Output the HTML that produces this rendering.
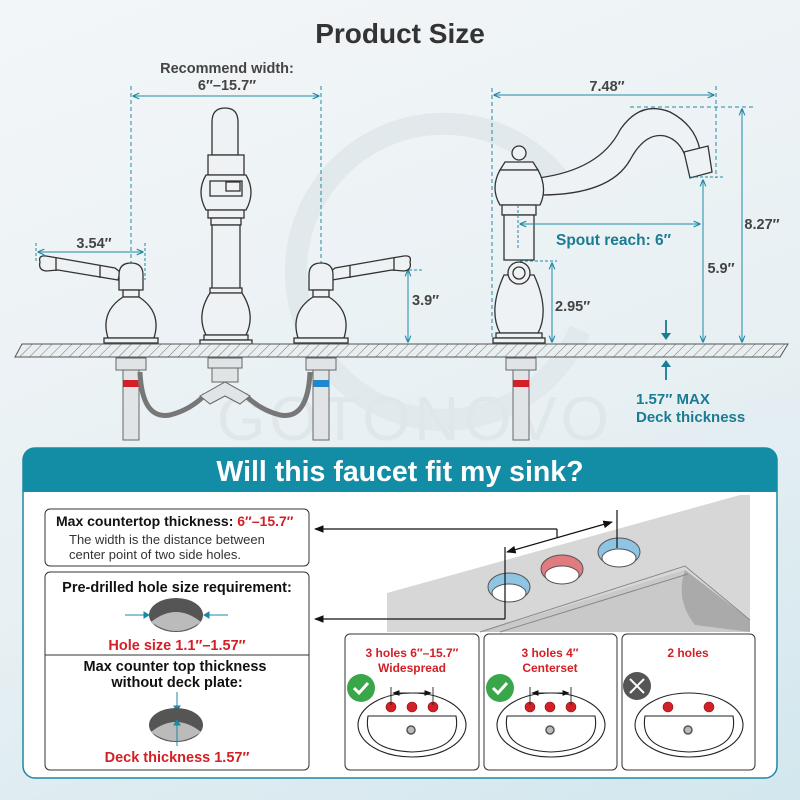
<!DOCTYPE html>
<html><head><meta charset="utf-8"><style>
html,body{margin:0;padding:0}
body{width:800px;height:800px;overflow:hidden;background:linear-gradient(160deg,#f3f6f8 0%,#e8f0f3 55%,#d2e7ee 100%);font-family:"Liberation Sans",sans-serif;position:relative}
svg{position:absolute;left:0;top:0}
</style></head><body>
<svg width="800" height="800" viewBox="0 0 800 800" xmlns="http://www.w3.org/2000/svg" font-family="Liberation Sans, sans-serif">
<defs>
<pattern id="hatch" width="7" height="7" patternUnits="userSpaceOnUse" patternTransform="rotate(45)">
<rect width="7" height="7" fill="#e9eef0"/><line x1="0" y1="0" x2="0" y2="7" stroke="#777" stroke-width="1"/></pattern>
<marker id="ah" viewBox="0 0 10 10" refX="9" refY="5" markerWidth="7" markerHeight="7" orient="auto-start-reverse"><path d="M0,1 L10,5 L0,9" fill="none" stroke="#1f8aa3" stroke-width="1.6"/></marker>
<marker id="bk" viewBox="0 0 10 10" refX="9" refY="5" markerWidth="8" markerHeight="8" orient="auto-start-reverse"><path d="M0,1 L10,5 L0,9 z" fill="#111"/></marker>
</defs>
<!-- watermark -->
<path d="M560,180 A148,148 0 1 0 580,330" fill="none" stroke="#e1e9ec" stroke-width="22"/>
<text x="415" y="440" font-size="62" fill="#dfe7ea" text-anchor="middle" letter-spacing="4">GOTONOVO</text>

<text x="400" y="43" font-size="28" font-weight="bold" fill="#333" text-anchor="middle">Product Size</text>

<!-- left dimensions -->
<text x="227" y="73" font-size="14.5" font-weight="bold" fill="#444" text-anchor="middle">Recommend width:</text>
<text x="227" y="90" font-size="14.5" font-weight="bold" fill="#444" text-anchor="middle">6″–15.7″</text>
<g stroke="#1f8aa3" stroke-width="1" fill="none">
<line x1="131" y1="86" x2="131" y2="343" stroke-dasharray="4,3"/>
<line x1="321" y1="86" x2="321" y2="343" stroke-dasharray="4,3"/>
<line x1="133" y1="96" x2="319" y2="96" marker-start="url(#ah)" marker-end="url(#ah)"/>
<line x1="36" y1="243" x2="36" y2="263" stroke-dasharray="3,2"/>
<line x1="145" y1="243" x2="145" y2="280" stroke-dasharray="3,2"/>
<line x1="38" y1="252" x2="143" y2="252" marker-start="url(#ah)" marker-end="url(#ah)"/>
<line x1="408" y1="270" x2="408" y2="342" marker-start="url(#ah)" marker-end="url(#ah)"/>
<line x1="404" y1="270" x2="422" y2="270" stroke-dasharray="3,2"/>
</g>
<text x="94" y="248" font-size="14.5" font-weight="bold" fill="#444" text-anchor="middle">3.54″</text>
<text x="412" y="305" font-size="14.5" font-weight="bold" fill="#444">3.9″</text>

<!-- faucets -->
<g fill="#eef2f4" stroke="#333" stroke-width="1.3">
<path d="M212,155 L212,122 Q212,108 225,108 Q238,108 238,122 L238,155 z"/>
<rect x="208" y="155" width="36" height="20"/>
<path d="M206,175 Q196,192 206,210 L246,210 Q256,192 246,175 z"/>
<rect x="210" y="181" width="32" height="15"/><rect x="226" y="182" width="14" height="9"/>
<rect x="208" y="210" width="36" height="8"/><rect x="211" y="218" width="30" height="7"/>
<rect x="212" y="225" width="28" height="65"/>
<rect x="210" y="288" width="32" height="5"/>
<path d="M210,293 Q196,315 206,335 L246,335 Q256,315 242,293 z"/>
<rect x="204" y="335" width="44" height="5"/><rect x="200" y="340" width="52" height="4"/>
<path d="M40,262 Q38,255 46,256 L58,258 L115,268 L120,272 L118,280 L58,270 L46,271 Q38,270 40,262 z"/>
<line x1="56" y1="257" x2="56" y2="271"/><line x1="100" y1="265" x2="100" y2="278"/>
<path d="M119,290 L119,275 Q119,263 131,263 Q143,263 143,275 L143,290 z"/>
<rect x="123" y="290" width="16" height="7"/>
<path d="M123,297 Q100,312 108,338 L154,338 Q162,312 139,297 z"/>
<rect x="104" y="338" width="54" height="5"/>
<path d="M410,262 Q412,255 404,256 L392,258 L335,268 L330,272 L332,280 L392,270 L404,271 Q412,270 410,262 z"/>
<line x1="394" y1="257" x2="394" y2="271"/><line x1="350" y1="265" x2="350" y2="278"/>
<path d="M309,290 L309,275 Q309,263 321,263 Q333,263 333,275 L333,290 z"/>
<rect x="313" y="290" width="16" height="7"/>
<path d="M313,297 Q290,312 298,338 L344,338 Q352,312 329,297 z"/>
<rect x="294" y="338" width="54" height="5"/>
<path d="M538,178 Q600,170 620,130 Q640,100 670,112 Q695,125 700,150 L686,158 Q680,140 665,136 Q645,132 630,160 Q610,195 540,195 z"/>
<path d="M684,152 L708,146 L712,172 L690,178 z"/>
<circle cx="519" cy="153" r="7"/>
<path d="M505,162 L533,162 L538,170 L500,170 z"/>
<path d="M500,170 Q490,188 500,205 L540,205 Q548,188 538,170 z"/>
<rect x="502" y="205" width="34" height="10"/>
<rect x="504" y="215" width="30" height="45"/>
<path d="M504,275 Q488,310 500,333 L538,333 Q550,310 534,275 z"/>
<circle cx="519" cy="273" r="11"/><circle cx="519" cy="273" r="6"/>
<rect x="496" y="333" width="46" height="5"/><rect x="493" y="338" width="52" height="5"/>
</g>

<!-- right dimensions -->
<g stroke="#1f8aa3" stroke-width="1" fill="none">
<line x1="492" y1="88" x2="492" y2="340" stroke-dasharray="4,3"/>
<line x1="716" y1="86" x2="716" y2="178" stroke-dasharray="4,3"/>
<line x1="494" y1="95" x2="714" y2="95" marker-start="url(#ah)" marker-end="url(#ah)"/>
<line x1="630" y1="107" x2="756" y2="107" stroke-dasharray="4,3"/>
<line x1="742" y1="109" x2="742" y2="342" marker-start="url(#ah)" marker-end="url(#ah)"/>
<line x1="690" y1="177" x2="724" y2="177" stroke-dasharray="3,2"/>
<line x1="703" y1="180" x2="703" y2="342" marker-start="url(#ah)" marker-end="url(#ah)"/>
<line x1="518" y1="205" x2="518" y2="250" stroke-dasharray="3,2"/>
<line x1="520" y1="224" x2="700" y2="224" marker-start="url(#ah)" marker-end="url(#ah)"/>
<line x1="520" y1="261" x2="557" y2="261" stroke-dasharray="3,2"/>
<line x1="552" y1="263" x2="552" y2="342" marker-start="url(#ah)" marker-end="url(#ah)"/>
</g>
<g stroke="#1a7b93" stroke-width="1.8"><line x1="666" y1="320" x2="666" y2="336"/><line x1="666" y1="364" x2="666" y2="380"/></g>
<path d="M661,333 L666,340 L671,333 z M661,367 L666,360 L671,367 z" fill="#1a7b93"/>
<text x="607" y="91" font-size="14.5" font-weight="bold" fill="#444" text-anchor="middle">7.48″</text>
<text x="762" y="229" font-size="14.5" font-weight="bold" fill="#444" text-anchor="middle">8.27″</text>
<text x="721" y="273" font-size="14.5" font-weight="bold" fill="#444" text-anchor="middle">5.9″</text>
<text x="556" y="245" font-size="15.5" font-weight="bold" fill="#1a7b93">Spout reach: 6″</text>
<text x="555" y="311" font-size="14.5" font-weight="bold" fill="#444">2.95″</text>
<text x="636" y="404" font-size="15" font-weight="bold" fill="#1a7b93">1.57″ MAX</text>
<text x="636" y="422" font-size="15" font-weight="bold" fill="#1a7b93">Deck thickness</text>

<path d="M22,344 L788,344 L780,357 L15,357 z" fill="url(#hatch)" stroke="#555" stroke-width="1"/>

<g stroke="#666" stroke-width="1" fill="#e0e4e6">
<rect x="116" y="358" width="30" height="12"/><rect x="306" y="358" width="30" height="12"/><rect x="506" y="358" width="30" height="12"/>
<rect x="208" y="358" width="34" height="10"/><rect x="212" y="368" width="26" height="14"/>
<rect x="123" y="370" width="16" height="70"/><rect x="313" y="370" width="16" height="70"/><rect x="513" y="370" width="16" height="70"/>
</g>
<rect x="123" y="380" width="16" height="7" fill="#d31f26"/>
<rect x="313" y="380" width="16" height="7" fill="#1e88c8"/>
<rect x="513" y="380" width="16" height="7" fill="#d31f26"/>
<path d="M140,372 Q142,420 170,415 Q190,410 205,395 M245,395 Q260,410 280,415 Q308,420 310,372" fill="none" stroke="#777" stroke-width="5"/>
<path d="M200,396 L225,382 L250,396 L240,404 L225,396 L210,404 z" fill="#e0e4e6" stroke="#666"/>

<!-- panel -->
<rect x="23" y="448" width="754" height="330" rx="12" fill="#fff" stroke="#1a8aa3" stroke-width="1.5"/>
<path d="M23,492 L23,460 Q23,448 35,448 L765,448 Q777,448 777,460 L777,492 z" fill="#138da6"/>
<text x="400" y="481" font-size="28.5" font-weight="bold" fill="#fff" text-anchor="middle">Will this faucet fit my sink?</text>

<path d="M387,593 L740,495 L750,495 L750,620 L480,632 L387,632 z" fill="#d7d7d7"/>
<path d="M480,632 L685,570 L750,620 L750,632 z" fill="#c9c9c9"/>
<path d="M685,570 Q675,600 695,625 L750,632 L750,620 z" fill="#aaa"/>
<path d="M480,632 L685,566 L750,620" fill="none" stroke="#888" stroke-width="1"/>
<path d="M500,632 L688,574" fill="none" stroke="#888" stroke-width="1"/>
<g stroke="#555" stroke-width="1">
<ellipse cx="509" cy="587" rx="21" ry="14" fill="#8fc4e3"/><ellipse cx="509" cy="593" rx="17" ry="9" fill="#fff"/>
<ellipse cx="562" cy="569" rx="21" ry="14" fill="#e07c80"/><ellipse cx="562" cy="575" rx="17" ry="9" fill="#fff"/>
<ellipse cx="619" cy="552" rx="21" ry="14" fill="#8fc4e3"/><ellipse cx="619" cy="558" rx="17" ry="9" fill="#fff"/>
</g>
<g stroke="#111" stroke-width="1.2" fill="none">
<line x1="557" y1="529" x2="315" y2="529" marker-end="url(#bk)"/><line x1="557" y1="529" x2="557" y2="538"/>
<line x1="505" y1="619" x2="315" y2="619" marker-end="url(#bk)"/><line x1="505" y1="619" x2="505" y2="547"/>
<line x1="507" y1="552" x2="612" y2="522" marker-start="url(#bk)" marker-end="url(#bk)"/>
<line x1="617" y1="510" x2="617" y2="548"/>
</g>

<rect x="45" y="509" width="264" height="57" rx="5" fill="#fff" stroke="#333" stroke-width="1"/>
<text x="56" y="526" font-size="14" font-weight="bold" fill="#111">Max countertop thickness: <tspan fill="#d31f26">6″–15.7″</tspan></text>
<text x="69" y="544" font-size="13" fill="#333">The width is the distance between</text>
<text x="69" y="559" font-size="13" fill="#333">center point of two side holes.</text>
<rect x="45" y="572" width="264" height="198" rx="5" fill="#fff" stroke="#333" stroke-width="1"/>
<line x1="45" y1="655" x2="309" y2="655" stroke="#333"/>
<text x="177" y="592" font-size="14.5" font-weight="bold" fill="#111" text-anchor="middle">Pre-drilled hole size requirement:</text>
<ellipse cx="176" cy="615" rx="27" ry="17" fill="#555"/><path d="M151,622 Q176,602 201,622 Q176,640 151,622 z" fill="#bbb"/>
<g stroke="#1a8aa3" stroke-width="1" fill="#1a8aa3">
<line x1="125" y1="615" x2="146" y2="615"/><path d="M144,612 L149,615 L144,618 z"/>
<line x1="207" y1="615" x2="228" y2="615"/><path d="M209,612 L204,615 L209,618 z"/>
<line x1="177" y1="692" x2="177" y2="708"/><path d="M174,706 L177,711 L180,706 z"/>
</g>
<text x="177" y="650" font-size="14.5" font-weight="bold" fill="#d31f26" text-anchor="middle">Hole size 1.1″–1.57″</text>
<text x="175" y="671" font-size="14.5" font-weight="bold" fill="#111" text-anchor="middle">Max counter top thickness</text>
<text x="177" y="687" font-size="14.5" font-weight="bold" fill="#111" text-anchor="middle">without deck plate:</text>
<ellipse cx="176" cy="725" rx="27" ry="17" fill="#555"/><path d="M151,732 Q176,712 201,732 Q176,750 151,732 z" fill="#bbb"/>
<g stroke="#1a8aa3" stroke-width="1" fill="#1a8aa3"><line x1="177" y1="722" x2="177" y2="746"/><path d="M174,725 L177,720 L180,725 z"/></g>
<text x="177" y="762" font-size="14.5" font-weight="bold" fill="#d31f26" text-anchor="middle">Deck thickness 1.57″</text>

<g fill="#fff" stroke="#333" stroke-width="1">
<rect x="345" y="634" width="134" height="136" rx="5"/>
<rect x="484" y="634" width="133" height="136" rx="5"/>
<rect x="622" y="634" width="133" height="136" rx="5"/>
</g>
<text x="412" y="657" font-size="12" font-weight="bold" fill="#d31f26" text-anchor="middle">3 holes 6″–15.7″</text>
<text x="412" y="672" font-size="12" font-weight="bold" fill="#d31f26" text-anchor="middle">Widespread</text>
<text x="550" y="657" font-size="12" font-weight="bold" fill="#d31f26" text-anchor="middle">3 holes 4″</text>
<text x="550" y="672" font-size="12" font-weight="bold" fill="#d31f26" text-anchor="middle">Centerset</text>
<text x="688" y="657" font-size="12" font-weight="bold" fill="#d31f26" text-anchor="middle">2 holes</text>
<g fill="none" stroke="#222" stroke-width="1.1">
<ellipse cx="412" cy="725" rx="54" ry="32"/><path d="M368,716 Q362,750 412,752 Q462,750 456,716 z"/>
<ellipse cx="551" cy="725" rx="54" ry="32"/><path d="M507,716 Q501,750 551,752 Q601,750 595,716 z"/>
<ellipse cx="689" cy="725" rx="54" ry="32"/><path d="M645,716 Q639,750 689,752 Q739,750 733,716 z"/>
</g>
<g fill="#bbb" stroke="#555" stroke-width="1.5"><circle cx="411" cy="730" r="4"/><circle cx="550" cy="730" r="4"/><circle cx="688" cy="730" r="4"/></g>
<g fill="#d31f26" stroke="#8a1015" stroke-width="0.6">
<circle cx="391" cy="707" r="5"/><circle cx="412" cy="707" r="5"/><circle cx="433" cy="707" r="5"/>
<circle cx="530" cy="707" r="5"/><circle cx="550" cy="707" r="5"/><circle cx="571" cy="707" r="5"/>
<circle cx="668" cy="707" r="5"/><circle cx="709" cy="707" r="5"/>
</g>
<g stroke="#222" stroke-width="0.9" fill="none">
<line x1="391" y1="687" x2="391" y2="705"/><line x1="433" y1="687" x2="433" y2="705"/>
<line x1="393" y1="693" x2="431" y2="693" marker-start="url(#bk)" marker-end="url(#bk)"/>
<line x1="530" y1="687" x2="530" y2="705"/><line x1="571" y1="687" x2="571" y2="705"/>
<line x1="532" y1="693" x2="569" y2="693" marker-start="url(#bk)" marker-end="url(#bk)"/>
</g>
<circle cx="361" cy="688" r="14" fill="#3aa64a"/><path d="M354,688 L359,693 L368,683" fill="none" stroke="#fff" stroke-width="3"/>
<circle cx="500" cy="688" r="14" fill="#3aa64a"/><path d="M493,688 L498,693 L507,683" fill="none" stroke="#fff" stroke-width="3"/>
<circle cx="637" cy="686" r="14" fill="#555"/><path d="M630,679 L644,693 M644,679 L630,693" stroke="#fff" stroke-width="2"/>
</svg>
</body></html>
